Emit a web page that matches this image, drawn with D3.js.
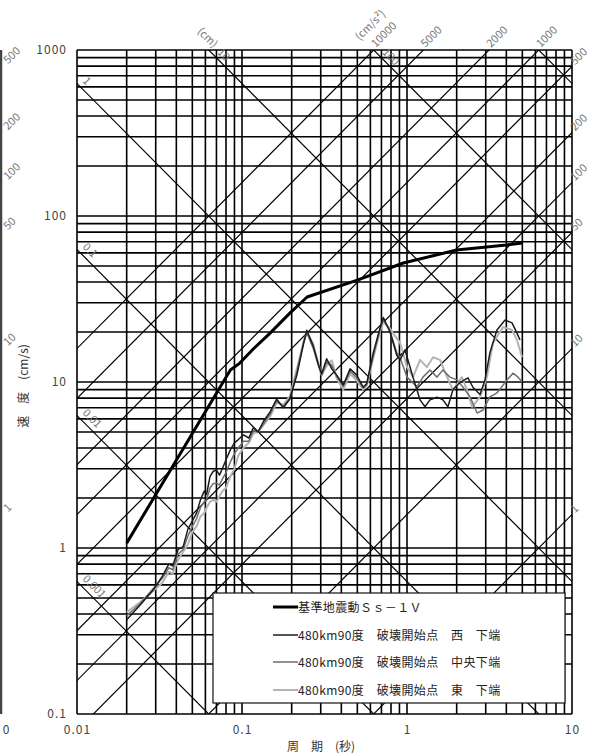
<!DOCTYPE html>
<html><head><meta charset="utf-8">
<script src="https://cdn.jsdelivr.net/npm/d3@7"></script>
<style>body{margin:0;background:#fff} svg{display:block;font-family:"Noto Sans CJK JP","Noto Sans",sans-serif}</style>
</head><body>
<svg id="c" width="589" height="754"></svg>
<script>
// ---- data ----
const periodTicks = [0.01, 0.1, 1, 10];
const periodTickLabels = ["0.01", "0.1", "1", "10"];
const velocityTicks = [0.1, 1, 10, 100, 1000];
const velocityTickLabels = ["0.1", "1", "10", "100", "1000"];
const accelLines = [1, 10, 50, 100, 200, 500, 1000, 2000, 5000, 10000];
const accelRightLabels = [500, 200, 100, 50, 10, 1];
const accelTopLabels = [10000, 5000, 2000, 1000];
const dispLines = [0.001, 0.01, 0.1, 1, 10, 100, 1000];
const dispLeftLabels = ["0.001", "0.01", "0.1", "1"];
const dispTopLabels = ["10", "100"];
const seriesNames = ["基準地震動Ｓｓ－１Ｖ", "480km90度　破壊開始点　西　下端", "480km90度　破壊開始点　中央下端", "480km90度　破壊開始点　東　下端"];

const ssT = [0.02, 0.085, 0.097, 0.117, 0.148, 0.195, 0.248, 0.5, 0.95, 2.0, 4.0, 5.0];
const ssV = [1.07, 11.8, 13.0, 15.8, 19.7, 26.0, 32.5, 41.1, 52.1, 62.4, 66.9, 68.8];

const westT = [0.02,0.024,0.029,0.033,0.036,0.038,0.041,0.044,0.047,0.050,0.053,0.056,0.059,0.061,0.064,0.067,0.070,0.073,0.076,0.080,0.085,0.090,0.095,0.102,0.110,0.117,0.125,0.135,0.148,0.162,0.178,0.195,0.215,0.236,0.247,0.270,0.290,0.304,0.326,0.350,0.375,0.411,0.452,0.496,0.543,0.570,0.625,0.685,0.718,0.789,0.867,0.908,0.973,1.087,1.20,1.285,1.378,1.52,1.65,1.77,1.90,2.09,2.34,2.51,2.77,2.97,3.18,3.51,3.93,4.33,4.64,4.84];
const westV = [0.37,0.45,0.56,0.68,0.80,0.78,0.98,1.02,1.30,1.45,1.62,1.95,2.20,2.10,2.70,2.90,2.95,2.75,3.00,3.40,3.90,4.30,4.50,4.80,4.60,5.30,5.00,5.80,6.60,7.90,7.00,7.90,11.0,17.0,20.5,16.5,12.8,11.2,13.8,12.0,11.0,9.6,12.0,11.0,9.3,9.8,15.0,21.0,24.5,20.0,14.5,13.6,15.6,10.7,7.8,7.1,7.8,8.1,7.8,7.1,9.0,9.9,10.6,9.3,8.4,10.3,15.0,20.6,23.6,22.7,19.7,17.9];

const centerT = [0.02,0.024,0.029,0.033,0.036,0.038,0.041,0.044,0.047,0.050,0.053,0.056,0.059,0.061,0.064,0.067,0.070,0.073,0.076,0.080,0.085,0.090,0.095,0.102,0.110,0.117,0.125,0.135,0.148,0.162,0.178,0.195,0.215,0.236,0.247,0.270,0.290,0.304,0.326,0.350,0.375,0.411,0.452,0.496,0.543,0.570,0.625,0.685,0.718,0.789,0.867,0.908,1.0,1.15,1.25,1.378,1.52,1.65,1.82,2.01,2.18,2.41,2.66,2.89,3.18,3.51,4.04,4.39,4.71,4.98];
const centerV = [0.39,0.46,0.57,0.66,0.76,0.74,0.92,0.98,1.18,1.35,1.50,1.75,1.90,1.95,2.30,2.45,2.45,2.40,2.60,2.85,3.30,3.70,4.00,4.40,4.40,5.10,5.00,5.60,6.40,7.70,7.10,8.00,11.5,17.2,19.8,16.0,12.6,11.0,13.2,12.6,10.8,9.4,11.6,10.6,9.2,9.7,14.5,20.5,23.8,20.3,15.0,14.0,10.7,9.33,10.7,11.8,10.7,11.8,10.7,10.3,9.33,8.13,6.50,6.78,8.13,8.59,10.3,11.3,10.7,10.0];

const eastT = [0.02,0.024,0.029,0.033,0.036,0.038,0.041,0.044,0.047,0.050,0.053,0.056,0.059,0.061,0.064,0.067,0.070,0.073,0.076,0.080,0.085,0.090,0.095,0.102,0.110,0.117,0.125,0.135,0.148,0.162,0.178,0.195,0.215,0.236,0.247,0.270,0.290,0.304,0.326,0.350,0.375,0.411,0.452,0.496,0.543,0.570,0.625,0.685,0.718,0.789,0.822,0.908,1.0,1.087,1.20,1.32,1.44,1.585,1.75,1.90,2.15,2.31,2.48,2.77,3.05,3.32,3.82,4.33,4.64,4.98];
const eastV = [0.41,0.47,0.55,0.62,0.72,0.70,0.85,0.95,1.05,1.25,1.35,1.55,1.62,1.75,1.90,1.95,1.90,2.05,2.20,2.30,2.70,3.00,3.60,4.00,4.30,4.90,5.00,5.50,6.20,7.50,7.30,8.20,12.0,17.5,20.0,17.0,13.0,11.0,12.5,13.5,10.5,9.0,11.2,10.2,9.0,9.5,14.0,20.0,23.0,21.0,19.7,17.2,12.3,10.7,13.6,12.3,14.1,13.6,10.7,8.95,10.7,8.95,7.07,8.13,10.7,17.2,21.4,20.6,17.9,14.1];

const seriesColors = ["#000000", "#1c1c1c", "#6e6e6e", "#b4b4b4"];
const seriesWidths = [3, 1.5, 1.5, 2];

// ---- scales ----
const svg = d3.select("#c");
const x = d3.scaleLog().domain([0.01, 10]).range([77, 572]);
const y = d3.scaleLog().domain([0.1, 1000]).range([714, 50]);
const TWO_PI = 2 * Math.PI;

svg.append("rect").attr("width", 589).attr("height", 754).attr("fill", "#fff");

svg.append("defs").append("clipPath").attr("id", "plotclip")
  .append("rect").attr("x", 77).attr("y", 50).attr("width", 495).attr("height", 664);

// grid values
const xGrid = [];
[0.01, 0.1, 1].forEach(d => { for (let k = 1; k <= 9; k++) xGrid.push(d * k); });
xGrid.push(10);
const yGrid = [];
[0.1, 1, 10, 100].forEach(d => { for (let k = 1; k <= 9; k++) yGrid.push(d * k); });
yGrid.push(1000);

const grid = svg.append("g").attr("stroke", "#000").attr("stroke-width", 1.6);
grid.selectAll(".vx").data(xGrid).join("line")
  .attr("x1", d => x(d)).attr("x2", d => x(d)).attr("y1", y(1000)).attr("y2", y(0.1));
grid.selectAll(".hy").data(yGrid).join("line")
  .attr("y1", d => y(d)).attr("y2", d => y(d)).attr("x1", x(0.01)).attr("x2", x(10));

// diagonal lines
const diag = svg.append("g").attr("clip-path", "url(#plotclip)").attr("stroke", "#000").attr("stroke-width", 1.2).attr("fill", "none");
const line = d3.line().x(d => x(d[0])).y(d => y(d[1]));
const Ts = [0.001, 100];
accelLines.forEach(A => {
  diag.append("path").attr("d", line(Ts.map(t => [t, A * t / TWO_PI])));
});
dispLines.forEach(D => {
  diag.append("path").attr("d", line(Ts.map(t => [t, TWO_PI * D / t])));
});

// diagonal labels
const lab = svg.append("g").attr("fill", "#777").attr("font-size", 11);
accelRightLabels.forEach(A => {
  const v = A * 10 / TWO_PI;
  lab.append("text").attr("transform", `translate(${x(10) + 3},${y(v) - 1}) rotate(-45)`).text(A);
  // neighbour chart on the left edge
  lab.append("text").attr("transform", `translate(8,${y(v) - 2}) rotate(-45)`).text(A);
});
accelTopLabels.forEach(A => {
  const t = TWO_PI * 1000 / A;
  lab.append("text").attr("transform", `translate(${x(t) + 2},${y(1000) - 2}) rotate(-45)`).text(A);
});
lab.append("text").attr("transform", `translate(${x(TWO_PI * 1000 / 10000) - 14},${y(1000) - 9}) rotate(-45)`).text("(cm/s²)");
dispLeftLabels.forEach(s => {
  const D = +s;
  const v = TWO_PI * D / 0.01;
  lab.append("text").attr("transform", `translate(${x(0.01) + 5},${y(v) - 2}) rotate(45)`).text(s);
});
dispTopLabels.forEach(s => {
  const D = +s;
  const t = TWO_PI * D / 1000;
  lab.append("text").attr("transform", `translate(${x(t) + 8},${y(1000) + 3}) rotate(45)`).text(s);
});
lab.append("text").attr("transform", `translate(${x(TWO_PI * 10 / 1000) - 12},${y(1000) - 18}) rotate(45)`).text("(cm)");

// neighbour chart border at far left
svg.append("line").attr("x1", 1).attr("x2", 1).attr("y1", y(1000)).attr("y2", y(0.1)).attr("stroke", "#444").attr("stroke-width", 2.5);
svg.append("text").attr("x", 6).attr("y", 734).attr("text-anchor", "middle").attr("font-size", 12).attr("fill", "#444").text("0");

// axes
const yAxis = d3.axisLeft(y).tickValues(velocityTicks).tickFormat((d, i) => velocityTickLabels[i]).tickSize(0).tickPadding(10);
const gy = svg.append("g").attr("transform", `translate(${x(0.01)},0)`).call(yAxis);
const xAxis = d3.axisBottom(x).tickValues(periodTicks).tickFormat((d, i) => periodTickLabels[i]).tickSize(0).tickPadding(11);
const gx = svg.append("g").attr("transform", `translate(0,${y(0.1)})`).call(xAxis);
[gx, gy].forEach(g => {
  g.select(".domain").remove();
  g.selectAll("text").attr("font-size", 12).attr("fill", "#444").attr("letter-spacing", "1px")
    .attr("font-family", "'Noto Sans CJK JP', sans-serif");
});

// series
const series = [
  ssT.map((t, i) => [t, ssV[i]]),
  westT.map((t, i) => [t, westV[i]]),
  centerT.map((t, i) => [t, centerV[i]]),
  eastT.map((t, i) => [t, eastV[i]])
];
const drawOrder = [3, 2, 1, 0];
drawOrder.forEach(i => {
  svg.append("path").attr("d", line(series[i])).attr("fill", "none")
    .attr("stroke", seriesColors[i]).attr("stroke-width", seriesWidths[i]).attr("stroke-linejoin", "round");
});

// legend
const lg = svg.append("g");
lg.append("rect").attr("x", 213).attr("y", 593).attr("width", 352).attr("height", 110)
  .attr("fill", "#fff").attr("stroke", "#111").attr("stroke-width", 1.2);
const rowY = [607, 635, 662, 690];
seriesNames.forEach((n, i) => {
  lg.append("line").attr("x1", 273).attr("x2", 298).attr("y1", rowY[i]).attr("y2", rowY[i])
    .attr("stroke", seriesColors[i]).attr("stroke-width", seriesWidths[i]);
  lg.append("text").attr("x", 298).attr("y", rowY[i] + 4.5).attr("font-size", 12).attr("fill", "#222")
    .attr("letter-spacing", "0.4px").text(n);
});

// axis titles
svg.append("text").attr("transform", "translate(28,386) rotate(-90)").attr("text-anchor", "middle")
  .attr("font-size", 12).attr("fill", "#333").text("速　度　(cm/s)");
svg.append("text").attr("x", 321).attr("y", 751).attr("text-anchor", "middle")
  .attr("font-size", 12).attr("fill", "#333").text("周　期　(秒)");
</script>
</body></html>
